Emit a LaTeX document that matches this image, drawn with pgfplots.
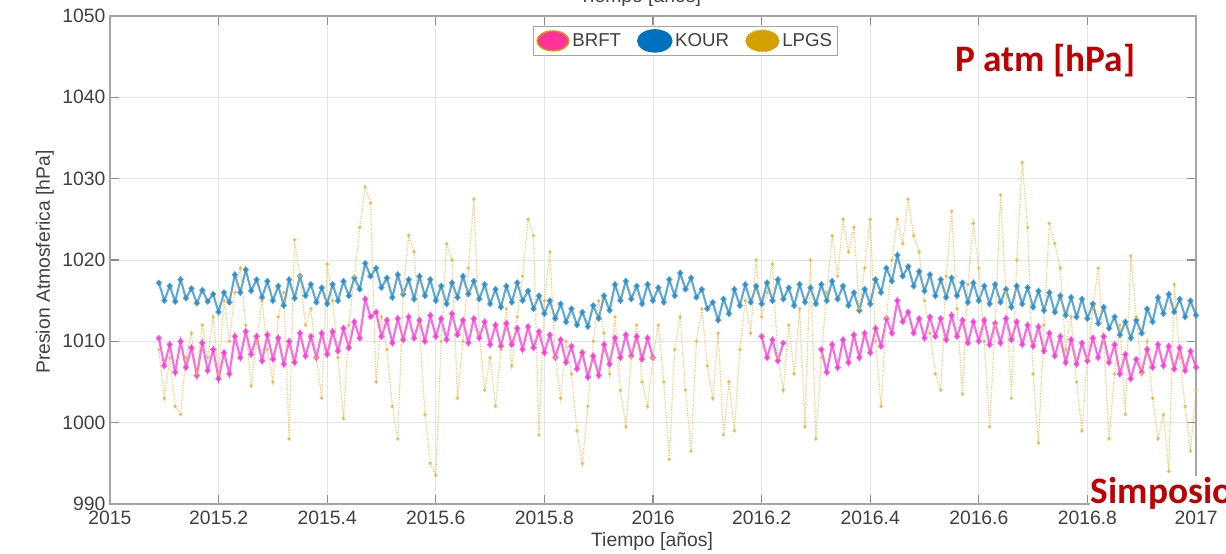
\documentclass[border=0pt]{standalone}
\usepackage{pgfplots}
\pgfplotsset{compat=1.18}
\usepackage{fontspec}
\setmainfont{Liberation Sans}
\newfontfamily\calib{Carlito}
\definecolor{brft}{RGB}{245,60,215}
\definecolor{brftleg}{RGB}{255,51,153}
\definecolor{kour}{RGB}{40,140,200}
\definecolor{kourleg}{RGB}{0,114,189}
\definecolor{lpgs}{RGB}{235,180,60}
\definecolor{lpgsleg}{RGB}{212,160,0}
\definecolor{simred}{RGB}{192,0,0}
\definecolor{txt}{RGB}{64,64,64}
\begin{document}
\begin{tikzpicture}
\path[use as bounding box] (-82.5pt,-36.75pt) rectangle (837pt,378pt);
\clip (-82.5pt,-36.75pt) rectangle (837pt,378pt);
\begin{axis}[
  at={(0pt,0pt)}, anchor=south west,
  scale only axis, width=814.5pt, height=366pt,
  xmin=2015, xmax=2017, ymin=990, ymax=1050,
  xtick={2015,2015.2,2015.4,2015.6,2015.8,2016,2016.2,2016.4,2016.6,2016.8,2017},
  xticklabels={2015,2015.2,2015.4,2015.6,2015.8,2016,2016.2,2016.4,2016.6,2016.8,2017},
  ytick={990,1000,1010,1020,1030,1040,1050},
  yticklabels={990,1000,1010,1020,1030,1040,1050},
  tick label style={font=\fontsize{14.5}{16}\selectfont, text=txt},
  xticklabel style={yshift=-1.5pt},
  grid=major, major grid style={draw=black!10, line width=0.6pt},
  axis line style={draw=black!35, line width=1pt},
  tick style={draw=black!45, line width=0.8pt},
  tick align=inside, major tick length=7pt,
  xtick pos=both, ytick pos=both,
  legend style={at={(0.530,0.949)}, anchor=center, draw=black!35, fill=white,
    font=\fontsize{14}{16}\selectfont, text=txt, inner sep=2pt,
    /tikz/every even column/.append style={column sep=10pt}},
  legend columns=3, legend cell align=left,
]
\addplot[brft, line width=1.6pt, opacity=0.75, mark=*, mark size=1.4pt,
  mark options={draw=none, fill=brft}, unbounded coords=jump,
  legend image code/.code={\filldraw[fill=brftleg, draw=lpgsleg, line width=1pt, opacity=1, solid] (12.5pt,0pt) ellipse (12pt and 7.5pt);}]
  table[x expr=2015.09+0.01*\coordindex, y index=0, header=false, row sep=\\] {
1010.4\\1007.0\\1009.6\\1006.2\\1010.0\\1006.8\\1009.2\\1005.8\\1009.8\\1006.4\\
1009.0\\1005.4\\1008.6\\1006.0\\1010.6\\1008.0\\1011.2\\1008.4\\1010.6\\1007.6\\
1010.8\\1007.8\\1010.4\\1007.2\\1010.0\\1007.4\\1011.0\\1008.2\\1010.6\\1008.0\\
1011.0\\1008.4\\1011.2\\1008.8\\1011.6\\1009.2\\1012.4\\1010.4\\1015.2\\1013.0\\
1013.6\\1010.6\\1012.6\\1009.8\\1012.8\\1010.2\\1013.0\\1010.4\\1012.6\\1010.0\\
1013.2\\1010.6\\1012.8\\1010.2\\1013.4\\1010.8\\1012.6\\1009.8\\1012.8\\1010.4\\
1012.4\\1009.6\\1012.0\\1009.4\\1012.2\\1009.6\\1011.6\\1009.0\\1011.8\\1009.2\\
1011.2\\1008.6\\1010.8\\1008.0\\1010.2\\1007.4\\1009.4\\1006.6\\1008.6\\1005.6\\
1008.2\\1005.8\\1009.6\\1007.2\\1010.4\\1008.0\\1010.8\\1008.2\\1010.6\\1007.8\\
1010.4\\1008.0\\
nan\\nan\\nan\\nan\\nan\\nan\\nan\\nan\\nan\\nan\\nan\\nan\\nan\\nan\\nan\\nan\\nan\\nan\\nan\\
1010.6\\1008.0\\1010.2\\1007.6\\1009.8\\
nan\\nan\\nan\\nan\\nan\\nan\\
1009.0\\1006.2\\1009.6\\1006.8\\1010.2\\1007.4\\1010.8\\1008.0\\1011.0\\
1008.6\\1011.6\\1009.4\\1012.8\\1011.0\\1015.0\\1012.4\\1013.6\\1011.0\\1012.8\\
1010.4\\1013.0\\1010.6\\1012.8\\1010.2\\1013.2\\1010.6\\1012.6\\1009.8\\1012.4\\
1010.0\\1012.6\\1009.6\\1012.2\\1009.8\\1012.8\\1010.2\\1012.4\\1009.6\\1012.0\\
1009.4\\1011.8\\1008.8\\1011.0\\1008.2\\1010.6\\1007.4\\1010.2\\1007.2\\1009.8\\
1007.6\\1010.4\\1008.0\\1010.6\\1007.4\\1009.6\\1006.0\\1008.4\\1005.4\\1007.8\\
1006.2\\1009.0\\1006.8\\1009.6\\1007.0\\1009.4\\1006.6\\1009.2\\1006.4\\1008.8\\1006.8\\
};
\addlegendentry{BRFT}
\addplot[kour, line width=1.6pt, opacity=0.75, mark=*, mark size=1.4pt,
  mark options={draw=none, fill=kour},
  legend image code/.code={\fill[kourleg, opacity=1] (12.5pt,0pt) ellipse (12.5pt and 8pt);}]
  table[x expr=2015.09+0.01*\coordindex, y index=0, header=false, row sep=\\] {
1017.2\\1015.0\\1016.8\\1014.9\\1017.6\\1015.3\\1016.5\\1014.7\\1016.3\\1014.9\\
1015.8\\1013.6\\1016.0\\1014.8\\1018.2\\1016.0\\1018.8\\1016.2\\1017.6\\1015.4\\
1017.4\\1015.0\\1016.8\\1014.4\\1017.6\\1015.3\\1018.0\\1015.6\\1017.0\\1014.8\\
1016.6\\1014.6\\1017.0\\1015.0\\1017.4\\1015.6\\1017.8\\1016.4\\1019.6\\1018.0\\
1019.0\\1016.6\\1017.8\\1015.4\\1018.2\\1015.8\\1017.6\\1015.2\\1018.0\\1015.6\\
1017.6\\1015.0\\1016.8\\1014.6\\1017.2\\1015.4\\1018.0\\1015.8\\1017.4\\1015.2\\
1017.0\\1014.6\\1016.4\\1014.2\\1016.8\\1014.8\\1017.2\\1015.0\\1016.2\\1014.0\\
1015.6\\1013.4\\1015.0\\1012.8\\1014.6\\1012.4\\1014.0\\1012.0\\1013.6\\1011.8\\
1014.4\\1012.8\\1015.6\\1013.8\\1017.0\\1015.0\\1017.4\\1015.2\\1016.8\\1014.6\\
1017.0\\1015.0\\1016.6\\1014.8\\1017.6\\1015.6\\1018.4\\1016.4\\1017.8\\1015.4\\
1016.4\\1014.0\\1014.8\\1012.6\\1015.2\\1013.4\\1016.4\\1014.4\\1017.0\\1014.8\\
1016.8\\1014.6\\1017.2\\1015.0\\1017.6\\1015.2\\1016.6\\1014.4\\1017.0\\1014.8\\
1016.6\\1014.6\\1017.0\\1015.0\\1017.4\\1015.2\\1016.8\\1014.4\\1016.0\\1013.8\\
1016.4\\1014.6\\1017.6\\1016.0\\1019.0\\1017.4\\1020.6\\1018.0\\1019.2\\1016.8\\
1018.6\\1016.2\\1018.2\\1015.6\\1017.6\\1015.4\\1017.8\\1015.6\\1017.2\\1014.8\\
1017.2\\1015.0\\1016.8\\1014.6\\1017.0\\1014.8\\1016.4\\1014.2\\1016.8\\1014.6\\
1016.6\\1014.2\\1016.2\\1013.8\\1016.0\\1013.6\\1015.6\\1013.2\\1015.4\\1013.0\\
1015.2\\1012.8\\1014.6\\1012.2\\1014.2\\1011.6\\1013.0\\1010.8\\1012.4\\1010.4\\
1012.6\\1011.0\\1014.0\\1012.4\\1015.4\\1013.4\\1015.8\\1013.6\\1015.2\\1013.0\\1015.0\\1013.2\\
};
\addlegendentry{KOUR}
\addplot[lpgs, line width=0.9pt, densely dotted, opacity=0.7, mark=*, mark size=0.9pt,
  mark options={draw=none, fill=lpgs, solid},
  legend image code/.code={\fill[lpgsleg, opacity=1] (12.5pt,0pt) ellipse (12.5pt and 8pt);}]
  table[x expr=2015.09+0.01*\coordindex, y index=0, header=false, row sep=\\] {
1009\\1003\\1008\\1002\\1001\\1008\\1011\\1006\\1012\\1008\\
1013\\1006\\1015\\1010\\1016\\1019\\1012\\1004.5\\1010\\1015\\
1009\\1005\\1013\\1016\\998\\1022.5\\1018\\1012\\1014\\1008\\
1003\\1019.5\\1015\\1008\\1000.5\\1012\\1018\\1024\\1029\\1027\\
1005\\1013\\1009\\1002\\998\\1016\\1023\\1021\\1012\\1001\\
995\\993.5\\1010\\1022\\1020\\1003\\1010\\1019\\1027.5\\1011\\
1004\\1008\\1002\\1009\\1014\\1007\\1013\\1018\\1025\\1023\\
998.5\\1015\\1021\\1008\\1003\\1010\\1006\\999\\995\\1002\\
1010\\1015\\1011\\1006\\1013\\1004\\999.5\\1008\\1012\\1005\\
1002\\1008\\1012\\1005\\995.5\\1009\\1013\\1004\\996.5\\1010\\
1014\\1007\\1003\\1011\\998.5\\1005\\999\\1009\\1015\\1011\\
1020\\1013\\1016\\1019.5\\1008\\1004\\1012\\1006\\1014\\999.5\\
1020\\998\\1008\\1016\\1023\\1018\\1025\\1021\\1024\\1014\\
1019\\1025\\1010\\1002\\1013\\1020\\1025\\1022\\1027.5\\1023\\
1021\\1015\\1011\\1006\\1004\\1018\\1026\\1014\\1003.5\\1017\\
1024.5\\1019\\1010\\999.5\\1012\\1028\\1016\\1003\\1020\\1032\\
1024\\1006\\997.5\\1012\\1024.5\\1022\\1019\\1009\\1013\\1005\\
999\\1008\\1014\\1019\\1010\\998\\1006\\1012\\1001\\1020.5\\
1013\\1006\\1010\\1003\\998\\1001\\994\\1017\\1008\\1002\\996.5\\1004\\
};
\addlegendentry{LPGS}
\end{axis}
\node[anchor=base, text=txt, font=\fontsize{14.5}{16}\selectfont] at (397.5pt,375.75pt) {Tiempo [años]};
\node[anchor=base, text=txt, font=\fontsize{14.5}{16}\selectfont] at (406.5pt,-31.5pt) {Tiempo [años]};
\node[rotate=90, text=txt, font=\fontsize{14.5}{16}\selectfont] at (-48.75pt,181.5pt) {Presion Atmosferica [hPa]};
\node[anchor=base west, inner sep=0pt, text=simred, font=\calib\bfseries\fontsize{28}{32}\selectfont] at (633.75pt,324pt) {P atm [hPa]};
\node[anchor=base west, inner sep=0.5pt, fill=white, text=simred, font=\calib\bfseries\fontsize{28}{32}\selectfont] at (735pt,0.75pt) {Simposio};
\end{tikzpicture}
\end{document}
